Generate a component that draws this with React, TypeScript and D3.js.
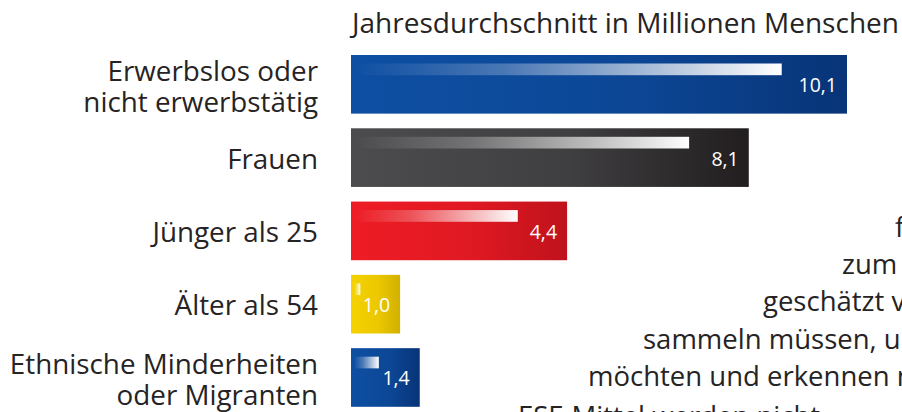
import React from "react";
import * as d3 from "d3";

const categories: string[][] = [
  ["Erwerbslos oder", "nicht erwerbstätig"],
  ["Frauen"],
  ["Jünger als 25"],
  ["Älter als 54"],
  ["Ethnische Minderheiten", "oder Migranten"],
];
const values: number[] = [10.1, 8.1, 4.4, 1.0, 1.4];
const valueLabels: string[] = ["10,1", "8,1", "4,4", "1,0", "1,4"];
const title = "Jahresdurchschnitt in Millionen Menschen";
const backgroundLines: string[] = [
  "für",
  "zum Beispiel",
  "geschätzt v",
  "sammeln müssen, un",
  "möchten und erkennen ni",
  "ESF-Mittel werden nicht",
];

const barColors: [string, string][] = [
  ["#0e4fa3", "#083478"],
  ["#4c4c4e", "#221e1f"],
  ["#ee1c25", "#c0121c"],
  ["#f5d200", "#d2b000"],
  ["#0e4fa3", "#083478"],
];

const W = 902;
const H = 412;
const FONT = "'Open Sans', sans-serif";
const TEXT = "#262324";

export default function App() {
  const x = d3.scaleLinear().domain([0, 10.1]).range([351, 847]);
  const y = d3
    .scaleBand<number>()
    .domain(d3.range(values.length))
    .range([55, 406.8])
    .paddingInner(0.2)
    .paddingOuter(0);
  const bh = y.bandwidth();

  const bgLeft = [895, 842, 763, 643, 588, 518];
  const bgBase = [237, 274, 311, 348.5, 386, 426];

  return (
    <div style={{ position: "absolute", left: 0, top: 0 }}>
      <svg width={W} height={H} style={{ display: "block", background: "#fff" }}>
        <defs>
          {barColors.map((c, i) => (
            <linearGradient key={i} id={`bar${i}`} x1="0" x2="1" y1="0" y2="0">
              <stop offset="0" stopColor={c[0]} />
              <stop offset="0.55" stopColor={d3.interpolateRgb(c[0], c[1])(0.3)} />
              <stop offset="1" stopColor={c[1]} />
            </linearGradient>
          ))}
          <linearGradient id="strip" x1="0" x2="1" y1="0" y2="0">
            <stop offset="0" stopColor="#fff" stopOpacity={0} />
            <stop offset="0.35" stopColor="#fff" stopOpacity={0.25} />
            <stop offset="1" stopColor="#fff" stopOpacity={1} />
          </linearGradient>
        </defs>

        {backgroundLines.map((t, i) => (
          <text
            key={`bg${i}`}
            x={bgLeft[i]}
            y={bgBase[i]}
            fontFamily={FONT}
            fontSize={27.5}
            fill={TEXT}
          >
            {t}
          </text>
        ))}

        <text x={352} y={33} fontFamily={FONT} fontSize={27.5} fill={TEXT} textLength={547} lengthAdjust="spacingAndGlyphs">
          {title}
        </text>

        {values.map((v, i) => {
          const x0 = x(0);
          const w = x(v) - x0;
          const top = y(i) as number;
          const cy = top + bh / 2;
          const sw = Math.max(5, 0.943 * w - 40);
          const lines = categories[i];
          return (
            <g key={i}>
              <rect x={x0} y={top} width={w} height={bh} fill={`url(#bar${i})`} />
              <rect x={x0 + 3} y={top + 8.5} width={sw} height={11.7} fill="url(#strip)" />
              <text
                x={x(v) - 10}
                y={cy + 8}
                textAnchor="end"
                fontFamily={FONT}
                fontSize={19.5}
                fill="#fff"
              >
                {valueLabels[i]}
              </text>
              {lines.length === 1 ? (
                <text
                  x={318}
                  y={cy + 11}
                  textAnchor="end"
                  fontFamily={FONT}
                  fontSize={27.8}
                  fill={TEXT}
                >
                  {lines[0]}
                </text>
              ) : (
                lines.map((l, j) => (
                  <text
                    key={j}
                    x={318}
                    y={cy - 3 + j * 31}
                    textAnchor="end"
                    fontFamily={FONT}
                    fontSize={27.8}
                    fill={TEXT}
                  >
                    {l}
                  </text>
                ))
              )}
            </g>
          );
        })}
      </svg>
    </div>
  );
}
